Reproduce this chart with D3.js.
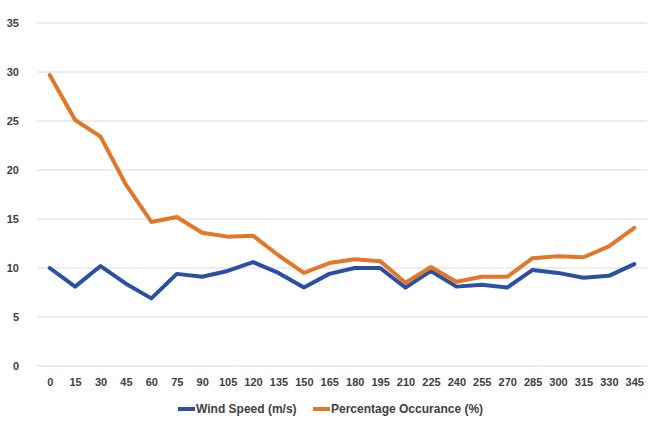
<!DOCTYPE html>
<html>
<head>
<meta charset="utf-8">
<script src="https://cdn.jsdelivr.net/npm/d3@7"></script>
<style>
  html, body { margin: 0; padding: 0; background: #fff; }
  svg text { font-family: "Liberation Sans", Arial, sans-serif; font-weight: bold; fill: #404040; }
</style>
</head>
<body>
<svg id="chart" width="650" height="429"></svg>
<script>
// Wind direction bins (degrees)
const directions = [0, 15, 30, 45, 60, 75, 90, 105, 120, 135, 150, 165, 180, 195, 210, 225, 240, 255, 270, 285, 300, 315, 330, 345];
// Mean wind speed per direction (m/s)
const windSpeed = [10.0, 8.1, 10.2, 8.4, 6.9, 9.4, 9.1, 9.7, 10.6, 9.5, 8.0, 9.4, 10.0, 10.0, 8.0, 9.7, 8.1, 8.3, 8.0, 9.8, 9.5, 9.0, 9.2, 10.4];
// Percentage occurrence per direction (%)
const occurrence = [29.7, 25.1, 23.4, 18.5, 14.7, 15.2, 13.6, 13.2, 13.3, 11.3, 9.5, 10.5, 10.9, 10.7, 8.5, 10.1, 8.6, 9.1, 9.1, 11.0, 11.2, 11.1, 12.2, 14.1];
const yTicks = [0, 5, 10, 15, 20, 25, 30, 35];

const seriesNames = ["Wind Speed (m/s)", "Percentage Occurance (%)"];
const seriesColors = ["#2B4FA3", "#E2772A"];

const svg = d3.select("#chart");
const margin = { left: 37, right: 3, top: 23, bottom: 63 };
const W = 650, H = 429;

const x = d3.scalePoint()
  .domain(directions)
  .range([margin.left, W - margin.right])
  .padding(0.5);

const y = d3.scaleLinear()
  .domain([0, 35])
  .range([H - margin.bottom, margin.top]);

// Horizontal gridlines
svg.append("g")
  .selectAll("line")
  .data(yTicks)
  .join("line")
  .attr("x1", margin.left)
  .attr("x2", W - margin.right)
  .attr("y1", d => y(d))
  .attr("y2", d => y(d))
  .attr("stroke", "#dcdcdc")
  .attr("stroke-width", 1.2);

const styleText = g => g.selectAll("text")
  .style("font-size", "11px")
  .style("font-family", "'Liberation Sans', sans-serif")
  .style("font-weight", "bold")
  .attr("fill", "#404040");

// Y axis labels
const yAxis = d3.axisLeft(y).tickValues(yTicks).tickSize(0).tickPadding(0);
svg.append("g")
  .attr("transform", `translate(19,0)`)
  .call(yAxis)
  .call(g => g.select(".domain").remove())
  .call(g => g.selectAll("text").attr("text-anchor", "end"))
  .call(styleText);

// X axis labels
const xAxis = d3.axisBottom(x).tickSize(0).tickPadding(0);
svg.append("g")
  .attr("transform", `translate(0,${y(0) + 12})`)
  .call(xAxis)
  .call(g => g.select(".domain").remove())
  .call(styleText);

// Lines
const line = d3.line()
  .x((d, i) => x(directions[i]))
  .y(d => y(d));

[windSpeed, occurrence].forEach((vals, k) => {
  svg.append("path")
    .datum(vals)
    .attr("fill", "none")
    .attr("stroke", seriesColors[k])
    .attr("stroke-width", 4)
    .attr("stroke-linejoin", "round")
    .attr("stroke-linecap", "round")
    .attr("d", line);
});

// Legend
const legend = svg.append("g").attr("transform", "translate(0,409)");
const legendX = [178, 313];
seriesNames.forEach((name, k) => {
  const g = legend.append("g").attr("transform", `translate(${legendX[k]},0)`);
  g.append("line")
    .attr("x1", 0).attr("x2", 17)
    .attr("y1", 0).attr("y2", 0)
    .attr("stroke", seriesColors[k])
    .attr("stroke-width", 4);
  g.append("text")
    .attr("x", 18)
    .attr("y", 4)
    .style("font-size", "12px")
    .text(name);
});
</script>
</body>
</html>
